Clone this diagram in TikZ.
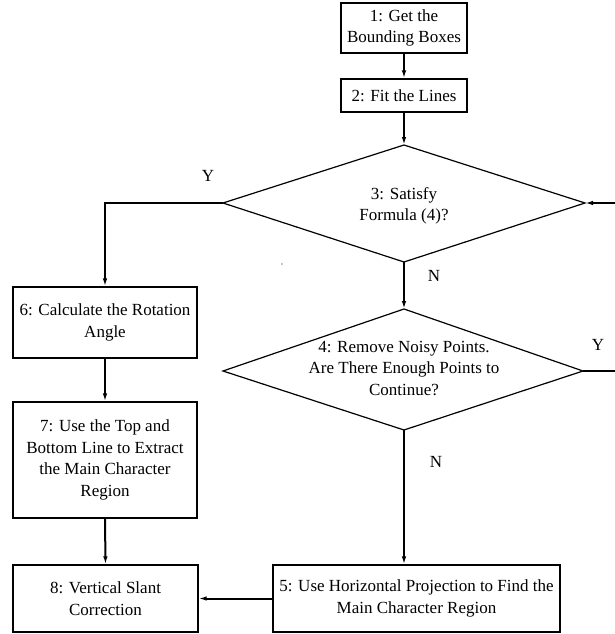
\documentclass[tikz,border=0pt]{standalone}
\usepackage{fontspec}
\setmainfont{Liberation Serif}
\usetikzlibrary{arrows.meta}
\begin{document}
\begin{tikzpicture}[x=1pt,y=-1pt,
  box/.style={draw, line width=1.2pt, align=center, inner sep=0pt, font=\fontsize{17}{21.5}\selectfont},
  txt/.style={align=center, inner sep=0pt, font=\fontsize{17}{21.5}\selectfont},
  conn/.style={line width=2pt, -{Latex[length=8pt,width=4.5pt]}},
  plainline/.style={line width=2pt},
  dia/.style={draw, line width=1.2pt, line join=miter}]
\useasboundingbox (0,0) rectangle (615,634);

% boxes
\node[box, minimum width=126pt, minimum height=50pt] (b1) at (404,28) {1: Get the\\Bounding Boxes};
\node[box, minimum width=126pt, minimum height=33pt] (b2) at (404,95.5) {2: Fit the Lines};
\node[box, minimum width=184pt, minimum height=71pt] (b6) at (105,322.5) {6: Calculate the Rotation\\Angle};
\node[box, minimum width=184pt, minimum height=116pt] (b7) at (105,460) {7: Use the Top and\\Bottom Line to Extract\\the Main Character\\Region};
\node[box, minimum width=185pt, minimum height=67pt] (b8) at (105.5,598.5) {8: Vertical Slant\\Correction};
\node[box, minimum width=287pt, minimum height=67pt] (b5) at (416.5,598.5) {5: Use Horizontal Projection to Find the\\Main Character Region};

% diamond 3
\coordinate (d3t) at (404,145);
\coordinate (d3r) at (585,203);
\coordinate (d3b) at (404,262);
\coordinate (d3l) at (223,203);
\draw[dia] (d3t) -- (d3r) -- (d3b) -- (d3l) -- cycle;
\node[txt] (d3) at (404,206) {3: Satisfy\\Formula (4)?};

% diamond 4
\coordinate (d4t) at (404,309);
\coordinate (d4r) at (583,371);
\coordinate (d4b) at (404,430);
\coordinate (d4l) at (223,371);
\draw[dia] (d4t) -- (d4r) -- (d4b) -- (d4l) -- cycle;
\node[txt] (d4) at (404,368) {4: Remove Noisy Points.\\Are There Enough Points to\\Continue?};

% connectors
\draw[conn] (b1.south) -- (b2.north);
\draw[conn] (b2.south) -- (d3t);
\draw[conn] (d3b) -- (d4t);
\draw[conn] (d3l) -| (b6.north);
\draw[conn] (b6.south) -- (b7.north);
\draw[conn] (b7.south) -- (b8.north);
\draw[conn] (d4b) -- (d4b |- b5.north);
\draw[conn] (b5.west) -- (b8.east);
\coordinate (rin) at (615,203);
\coordinate (rout) at (615,371);
\draw[conn] (rin) -- (d3r);
\draw[plainline] (d4r) -- (rout);

% labels
\node[txt] (y1) at (208,176) {Y};
\node[txt] (n1) at (434,276) {N};
\node[txt] (y2) at (598,345) {Y};
\node[txt] (n2) at (436,462) {N};

% stray dot
\fill (282,264) circle (0.7pt);
\end{tikzpicture}
\end{document}
